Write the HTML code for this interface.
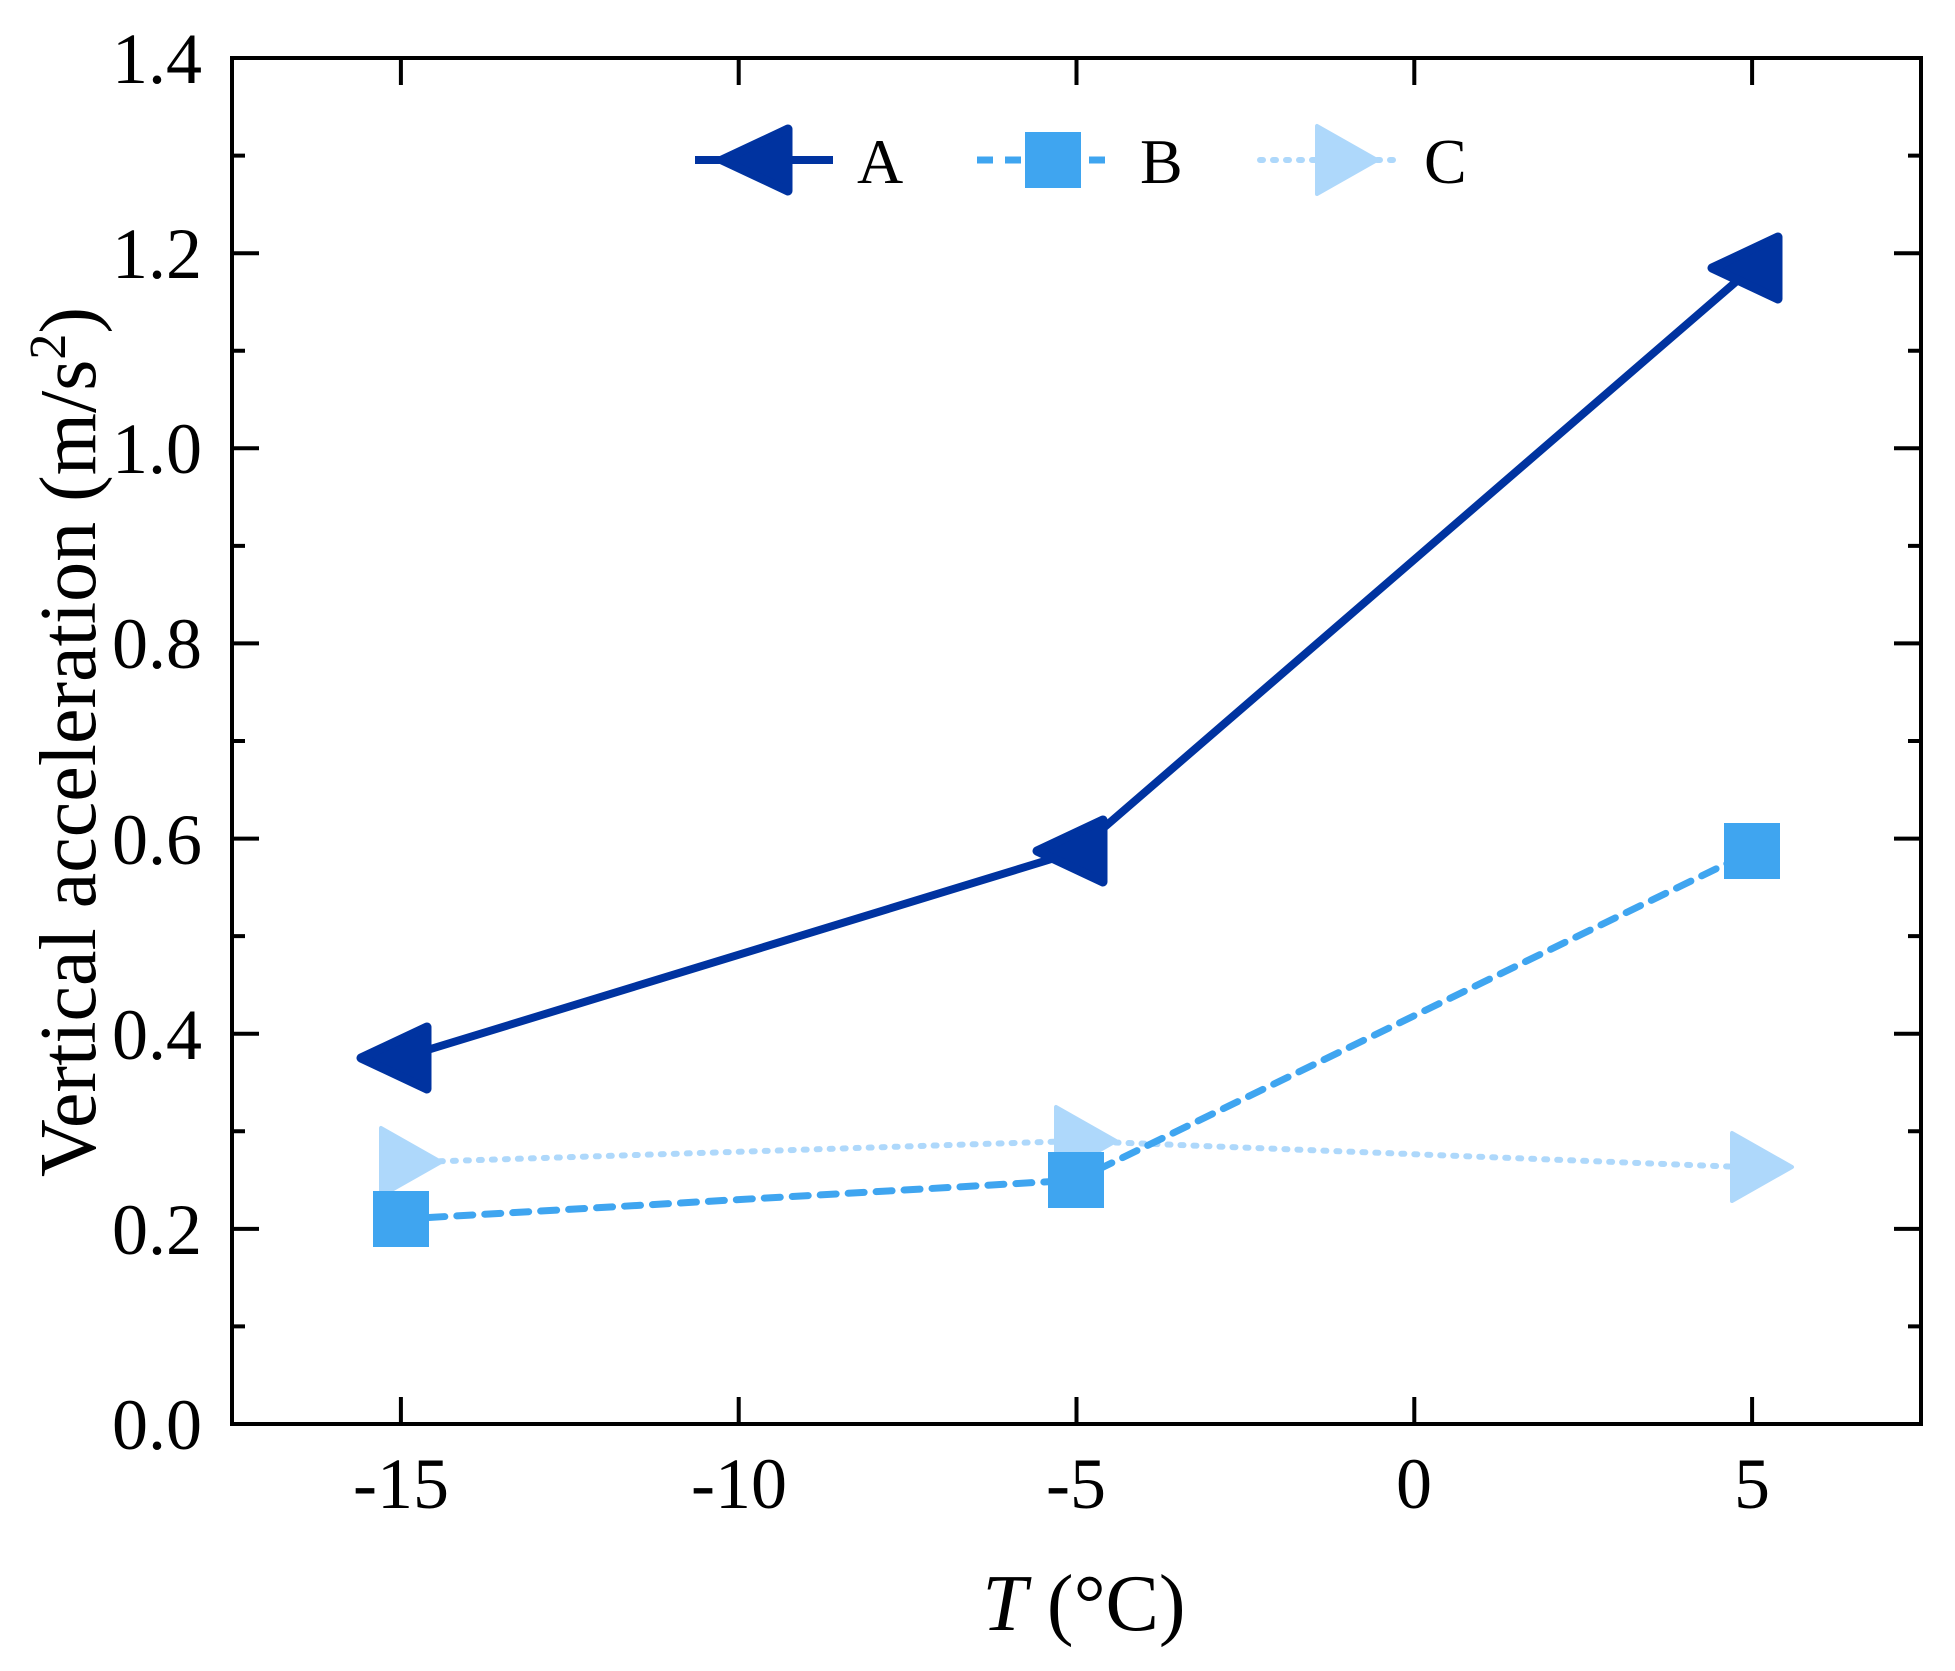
<!DOCTYPE html>
<html><head><meta charset="utf-8"><style>html,body{margin:0;padding:0;background:#fff} svg{font-family:"Liberation Serif","Times New Roman",serif}</style></head>
<body>
<svg width="1955" height="1666" viewBox="0 0 1955 1666" xmlns="http://www.w3.org/2000/svg" style="font-family:'Liberation Serif',serif">
<rect width="1955" height="1666" fill="#fff"/>
<polyline points="400.9,1162.5 1076.5,1141 1752.1,1167.4" fill="none" stroke="#aed8fb" stroke-width="6" stroke-dasharray="3,10" stroke-linecap="round"/>
<polyline points="400.9,1219.1 1076.5,1180.1 1752.1,851.3" fill="none" stroke="#3fa5f0" stroke-width="7" stroke-dasharray="16,12" stroke-linecap="round"/>
<polyline points="400.9,1058.1 1076.5,851.3 1752.1,267.8" fill="none" stroke="#0033a0" stroke-width="8"/>
<g fill="#aed8fb" stroke="#aed8fb" stroke-width="4" stroke-linejoin="round">
<polygon points="381,1128 381,1196 441,1162"/>
<polygon points="1056,1107 1056,1175 1116,1141"/>
<polygon points="1732,1133 1732,1201 1792,1167"/>
</g>
<g fill="#3fa5f0">
<rect x="373" y="1191" width="56" height="56"/>
<rect x="1048" y="1152" width="56" height="56"/>
<rect x="1724" y="823" width="56" height="56"/>
</g>
<g fill="#0033a0" stroke="#0033a0" stroke-width="9" stroke-linejoin="round">
<polygon points="361,1058 427,1027 427,1089"/>
<polygon points="1037,851 1103,820 1103,882"/>
<polygon points="1712,268 1778,237 1778,299"/>
</g>
<rect x="232" y="58" width="1689" height="1366" fill="none" stroke="#000" stroke-width="4"/>
<g stroke="#000" stroke-width="4">
<path d="M232,1228.9h27M232,1033.7h27M232,838.6h27M232,643.4h27M232,448.3h27M232,253.2h27"/>
<path d="M232,1326.4h13M232,1131.3h13M232,936.1h13M232,741h13M232,545.9h13M232,350.7h13M232,155.6h13"/>
<path d="M1921,1228.9h-27M1921,1033.7h-27M1921,838.6h-27M1921,643.4h-27M1921,448.3h-27M1921,253.2h-27"/>
<path d="M1921,1326.4h-13M1921,1131.3h-13M1921,936.1h-13M1921,741h-13M1921,545.9h-13M1921,350.7h-13M1921,155.6h-13"/>
<path d="M400.9,1424v-27M738.7,1424v-27M1076.5,1424v-27M1414.3,1424v-27M1752.1,1424v-27"/>
<path d="M400.9,58v27M738.7,58v27M1076.5,58v27M1414.3,58v27M1752.1,58v27"/>
</g>
<g font-size="72" text-anchor="end" fill="#000">
<text x="202" y="1449">0.0</text>
<text x="202" y="1254">0.2</text>
<text x="202" y="1059">0.4</text>
<text x="202" y="864">0.6</text>
<text x="202" y="668">0.8</text>
<text x="202" y="473">1.0</text>
<text x="202" y="278">1.2</text>
<text x="202" y="83">1.4</text>
</g>
<g font-size="72" text-anchor="middle" fill="#000">
<text x="401" y="1508">-15</text>
<text x="739" y="1508">-10</text>
<text x="1076" y="1508">-5</text>
<text x="1414" y="1508">0</text>
<text x="1752" y="1508">5</text>
</g>
<text x="1084" y="1630" font-size="80" text-anchor="middle"><tspan font-style="italic">T</tspan> (°C)</text>
<text transform="translate(95,742) rotate(-90)" font-size="80" text-anchor="middle">Vertical acceleration (m/s<tspan font-size="52" dy="-30">2</tspan><tspan dy="30">)</tspan></text>
<line x1="695" y1="160" x2="833" y2="160" stroke="#0033a0" stroke-width="8"/>
<polygon points="722,160 788,129 788,191" fill="#0033a0" stroke="#0033a0" stroke-width="9" stroke-linejoin="round"/>
<text x="857" y="183" font-size="64">A</text>
<line x1="977" y1="160" x2="1115" y2="160" stroke="#3fa5f0" stroke-width="7" stroke-dasharray="16,12"/>
<rect x="1025" y="132" width="56" height="56" fill="#3fa5f0"/>
<text x="1140" y="183" font-size="64">B</text>
<line x1="1260" y1="160" x2="1403" y2="160" stroke="#aed8fb" stroke-width="6" stroke-dasharray="3,10" stroke-linecap="round"/>
<polygon points="1317,126 1317,194 1377,160" fill="#aed8fb" stroke="#aed8fb" stroke-width="4" stroke-linejoin="round"/>
<text x="1424" y="183" font-size="64">C</text>
</svg>
</body></html>
